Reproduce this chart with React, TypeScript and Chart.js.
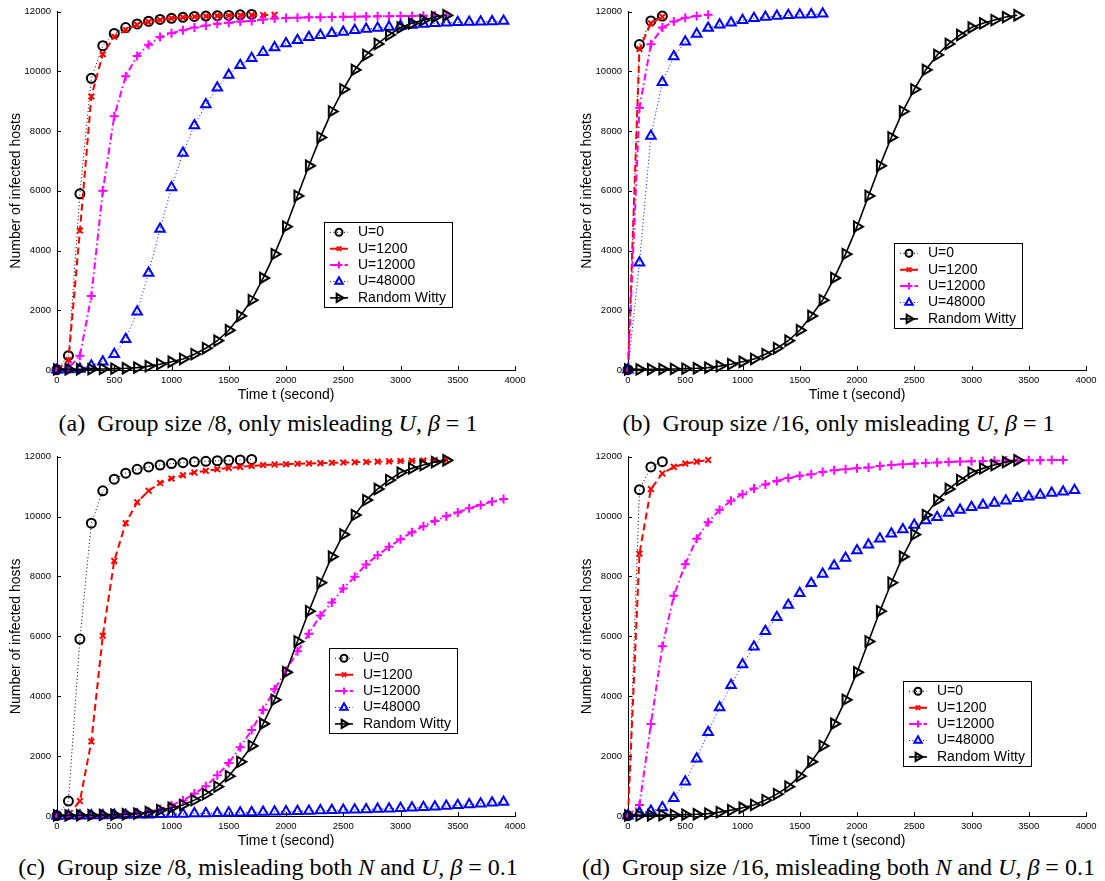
import React, { useEffect, useRef } from 'react';
import { Chart, registerables } from 'chart.js';

Chart.register(...registerables);

// ---------------- data ----------------
const T = [0, 100, 200, 300, 400, 500, 600, 700, 800, 900, 1000, 1100, 1200, 1300, 1400, 1500, 1600, 1700, 1800, 1900,
  2000, 2100, 2200, 2300, 2400, 2500, 2600, 2700, 2800, 2900, 3000, 3100, 3200, 3300, 3400, 3500, 3600, 3700, 3800, 3900];

const SERIES_NAMES = ['U=0', 'U=1200', 'U=12000', 'U=48000', 'Random Witty'];
const X_TICKS = [0, 500, 1000, 1500, 2000, 2500, 3000, 3500, 4000];
const Y_TICKS = [0, 2000, 4000, 6000, 8000, 10000, 12000];
const X_TITLE = 'Time t (second)';
const Y_TITLE = 'Number of infected hosts';

const WITTY = [20, 22, 26, 30, 36, 45, 58, 80, 130, 195, 275, 370, 530, 730, 980, 1330, 1810, 2340, 3080, 3880,
  4800, 5830, 6840, 7790, 8660, 9400, 10050, 10550, 10920, 11220, 11470, 11610, 11720, 11820, 11880];

// (a) group size /8, only misleading U, beta = 1
const A_U0 = [10, 480, 5900, 9770, 10860, 11270, 11470, 11590, 11680, 11740, 11780, 11810, 11840, 11855, 11865, 11875, 11895, 11910];
const A_U1200 = [10, 330, 4670, 9160, 10580, 11160, 11390, 11560, 11660, 11720, 11780, 11810, 11830, 11850, 11860, 11870, 11880, 11885, 11890, 11895];
const A_U12000 = [10, 60, 480, 2480, 6000, 8500, 9840, 10520, 10890, 11150, 11280, 11380, 11470, 11540, 11600, 11630, 11670, 11690, 11740, 11770,
  11790, 11800, 11810, 11815, 11820, 11830, 11835, 11840, 11845, 11850, 11855, 11860, 11865, 11870, 11875];
const A_U48000 = [10, 15, 35, 145, 280, 530, 1030, 1950, 3250, 4720, 6110, 7270, 8190, 8890, 9450, 9880, 10210, 10440, 10640, 10800,
  10935, 11045, 11145, 11210, 11280, 11320, 11380, 11420, 11455, 11490, 11520, 11555, 11590, 11610, 11630, 11645, 11655, 11665, 11675, 11685];

// (b) group size /16, only misleading U, beta = 1
const B_U0 = [10, 10900, 11690, 11855];
const B_U1200 = [10, 10750, 11610, 11830];
const B_U12000 = [10, 8780, 10910, 11470, 11670, 11800, 11860, 11900];
const B_U48000 = [10, 3590, 7840, 9640, 10500, 10990, 11250, 11450, 11560, 11630, 11710, 11780, 11820, 11860, 11880, 11900, 11910, 11930];

// (c) group size /8, misleading both N and U, beta = 0.1
const C_U0 = [10, 500, 5910, 9780, 10860, 11250, 11450, 11580, 11660, 11720, 11770, 11800, 11830, 11845, 11865, 11880, 11890, 11910];
const C_U1200 = [10, 30, 500, 2490, 6020, 8520, 9780, 10480, 10860, 11120, 11270, 11380, 11470, 11530, 11580, 11620, 11660, 11690, 11720, 11740,
  11750, 11765, 11775, 11785, 11795, 11805, 11815, 11825, 11835, 11845, 11855, 11865, 11875, 11885, 11890];
const C_U12000 = [10, 15, 20, 28, 38, 50, 70, 100, 140, 230, 360, 520, 750, 990, 1360, 1770, 2300, 2870, 3540, 4230,
  4850, 5500, 6090, 6700, 7130, 7600, 7990, 8400, 8710, 8990, 9240, 9480, 9680, 9850, 10010, 10140, 10280, 10390, 10500, 10590];
const C_U48000 = [0, 5, 10, 15, 20, 30, 35, 40, 45, 55, 65, 70, 80, 85, 95, 105, 110, 120, 130, 140,
  150, 160, 170, 180, 190, 200, 210, 220, 235, 245, 260, 275, 290, 310, 330, 355, 380, 410, 440, 470];

// (d) group size /16, misleading both N and U, beta = 0.1
const D_U0 = [10, 10900, 11660, 11835];
const D_U1200 = [10, 8760, 10920, 11440, 11660, 11770, 11835, 11890];
const D_U12000 = [10, 370, 3070, 5670, 7360, 8410, 9260, 9810, 10230, 10530, 10750, 10940, 11070, 11190, 11290, 11360, 11410, 11490, 11550, 11580,
  11615, 11640, 11690, 11720, 11745, 11770, 11790, 11810, 11825, 11840, 11850, 11860, 11865, 11870, 11875, 11880, 11885, 11888, 11890];
const D_U48000 = [10, 110, 170, 280, 590, 1140, 1910, 2800, 3620, 4370, 5060, 5650, 6170, 6640, 7050, 7440, 7770, 8080, 8360, 8620,
  8870, 9060, 9260, 9430, 9570, 9720, 9870, 9980, 10120, 10220, 10310, 10390, 10450, 10530, 10610, 10660, 10720, 10790, 10830, 10880];

// ---------------- styles / layout ----------------
type Sty = { color: string; width: number; dash: number[]; point: string; radius: number; pw: number; rot: number };
const STYLES: Sty[] = [
  { color: '#000000', width: 1, dash: [1, 2.5], point: 'circle', radius: 4.5, pw: 2, rot: 0 },
  { color: '#ff0000', width: 2, dash: [7, 4], point: 'crossRot', radius: 4, pw: 2, rot: 0 },
  { color: '#ff00ff', width: 2, dash: [7, 3, 1.5, 3], point: 'cross', radius: 4.5, pw: 2, rot: 0 },
  { color: '#0000ff', width: 1, dash: [1, 2.5], point: 'triangle', radius: 5.5, pw: 2, rot: 0 },
  { color: '#000000', width: 1.6, dash: [], point: 'triangle', radius: 6, pw: 2, rot: 90 },
];

const SANS = '"Liberation Sans", Arial, Helvetica, sans-serif';
const SERIF = '"Liberation Serif", "Times New Roman", serif';
const CANVAS_W = 534;

const PANELS = [
  { series: [A_U0, A_U1200, A_U12000, A_U48000, WITTY], left: 0, top: 0, h: 406, legend: { x: 266.7, y: 210 }, capCenter: 268, capTop: 411 },
  { series: [B_U0, B_U1200, B_U12000, B_U48000, WITTY], left: 571, top: 0, h: 406, legend: { x: 266.3, y: 231.7 }, capCenter: 838.5, capTop: 411 },
  { series: [C_U0, C_U1200, C_U12000, C_U48000, WITTY], left: 0, top: 445, h: 407, legend: { x: 272.3, y: 191 }, capCenter: 268, capTop: 855 },
  { series: [D_U0, D_U1200, D_U12000, D_U48000, WITTY], left: 571, top: 445, h: 407, legend: { x: 274.7, y: 224.3 }, capCenter: 838.5, capTop: 855 },
];

function drawMarker(ctx: CanvasRenderingContext2D, s: Sty, x: number, y: number, scale: number) {
  ctx.save();
  ctx.setLineDash([]);
  ctx.strokeStyle = s.color;
  ctx.lineWidth = s.pw;
  ctx.beginPath();
  const r = s.radius * scale;
  if (s.point === 'circle') {
    ctx.arc(x, y, r, 0, Math.PI * 2);
  } else if (s.point === 'cross') {
    ctx.moveTo(x, y - r); ctx.lineTo(x, y + r);
    ctx.moveTo(x - r, y); ctx.lineTo(x + r, y);
  } else if (s.point === 'crossRot') {
    const d = Math.cos(Math.PI / 4) * r;
    ctx.moveTo(x - d, y - d); ctx.lineTo(x + d, y + d);
    ctx.moveTo(x - d, y + d); ctx.lineTo(x + d, y - d);
  } else {
    let a = (s.rot * Math.PI) / 180;
    ctx.moveTo(x + Math.sin(a) * r, y - Math.cos(a) * r);
    a += (2 * Math.PI) / 3;
    ctx.lineTo(x + Math.sin(a) * r, y - Math.cos(a) * r);
    a += (2 * Math.PI) / 3;
    ctx.lineTo(x + Math.sin(a) * r, y - Math.cos(a) * r);
    ctx.closePath();
  }
  ctx.stroke();
  ctx.restore();
}

const inTicksPlugin = {
  id: 'inTicks',
  afterDatasetsDraw(chart: any) {
    const { ctx, chartArea, scales } = chart;
    ctx.save();
    ctx.strokeStyle = '#000';
    ctx.lineWidth = 1;
    ctx.setLineDash([]);
    ctx.beginPath();
    scales.x.ticks.forEach((t: any) => {
      const px = Math.round(scales.x.getPixelForValue(t.value)) + 0.5;
      ctx.moveTo(px, chartArea.bottom);
      ctx.lineTo(px, chartArea.bottom - 4);
    });
    scales.y.ticks.forEach((t: any) => {
      const py = Math.round(scales.y.getPixelForValue(t.value)) + 0.5;
      ctx.moveTo(chartArea.left, py);
      ctx.lineTo(chartArea.left + 4, py);
    });
    ctx.stroke();
    ctx.restore();
  },
};

const boxLegendPlugin = {
  id: 'boxLegend',
  afterDraw(chart: any, _args: any, opts: any) {
    const { ctx, chartArea } = chart;
    const x0 = Math.round(chartArea.left + opts.x);
    const y0 = Math.round(chartArea.top + opts.y);
    const w = 129, h = 86;
    ctx.save();
    ctx.fillStyle = '#ffffff';
    ctx.fillRect(x0, y0, w, h);
    ctx.strokeStyle = '#000';
    ctx.lineWidth = 1;
    ctx.setLineDash([]);
    ctx.strokeRect(x0 + 0.5, y0 + 0.5, w - 1, h - 1);
    SERIES_NAMES.forEach((name, i) => {
      const s = STYLES[i];
      const cy = y0 + 10.3 + i * 16.4;
      ctx.save();
      ctx.strokeStyle = s.color;
      ctx.lineWidth = s.width;
      ctx.setLineDash(s.dash);
      ctx.beginPath();
      ctx.moveTo(x0 + 6, cy);
      ctx.lineTo(x0 + 24, cy);
      ctx.stroke();
      ctx.restore();
      drawMarker(ctx, s, x0 + 15, cy, 0.78);
      ctx.fillStyle = '#000';
      ctx.font = `14px ${SANS}`;
      ctx.textBaseline = 'middle';
      ctx.textAlign = 'left';
      ctx.fillText(name, x0 + 34, cy);
    });
    ctx.restore();
  },
};

function Panel({ idx }: { idx: number }) {
  const ref = useRef<HTMLCanvasElement>(null);
  const P = PANELS[idx];
  useEffect(() => {
    const datasets = P.series.map((vals, i) => {
      const s = STYLES[i];
      return {
        label: SERIES_NAMES[i],
        data: vals.map((v, j) => ({ x: T[j], y: v })),
        borderColor: s.color,
        borderWidth: s.width,
        borderDash: s.dash,
        pointStyle: s.point,
        pointRadius: s.radius,
        pointHoverRadius: s.radius,
        pointBorderWidth: s.pw,
        pointRotation: s.rot,
        pointBorderColor: s.color,
        pointBackgroundColor: 'rgba(0,0,0,0)',
        tension: 0,
        fill: false,
        clip: false,
        order: 4 - i,
      };
    });
    const chart = new Chart(ref.current as HTMLCanvasElement, {
      type: 'line',
      data: { datasets } as any,
      plugins: [inTicksPlugin, boxLegendPlugin] as any,
      options: {
        responsive: false,
        animation: false,
        events: [],
        layout: { padding: { left: 0, top: 9, right: CANVAS_W - 515, bottom: 0 } },
        plugins: {
          legend: { display: false },
          tooltip: { enabled: false },
          boxLegend: P.legend,
        } as any,
        scales: {
          x: {
            type: 'linear',
            min: 0,
            max: 4000,
            afterBuildTicks: (s: any) => { s.ticks = X_TICKS.map((v) => ({ value: v })); },
            afterFit: (s: any) => { s.height = 36; },
            grid: { display: false, drawTicks: false },
            border: { display: true, color: '#000', width: 1 },
            ticks: { autoSkip: false, maxRotation: 0, padding: 5, color: '#000', font: { family: SANS, size: 9.5 }, callback: (v: any) => `${v}` },
            title: { display: true, text: X_TITLE, color: '#000', font: { family: SANS, size: 14 }, padding: { top: 0, bottom: 2 } },
          },
          y: {
            type: 'linear',
            min: 0,
            max: 12000,
            afterBuildTicks: (s: any) => { s.ticks = Y_TICKS.map((v) => ({ value: v })); },
            afterFit: (s: any) => { s.width = 57; },
            grid: { display: false, drawTicks: false },
            border: { display: true, color: '#000', width: 1 },
            ticks: { autoSkip: false, padding: 6, color: '#000', font: { family: SANS, size: 9.5 }, callback: (v: any) => `${v}` },
            title: { display: true, text: Y_TITLE, color: '#000', font: { family: SANS, size: 14 }, padding: { top: 8, bottom: 0 } },
          },
        },
      } as any,
    });
    return () => chart.destroy();
  }, []);
  return (
    <canvas
      ref={ref}
      width={CANVAS_W}
      height={P.h}
      style={{ position: 'absolute', left: P.left, top: P.top, width: CANVAS_W, height: P.h }}
    />
  );
}

const CAPTIONS = [
  <>(a)<span style={{ marginLeft: 12 }}>Group size /8, only misleading <i>U</i>, <i>β</i> = 1</span></>,
  <>(b)<span style={{ marginLeft: 12 }}>Group size /16, only misleading <i>U</i>, <i>β</i> = 1</span></>,
  <>(c)<span style={{ marginLeft: 12 }}>Group size /8, misleading both <i>N</i> and <i>U</i>, <i>β</i> = 0.1</span></>,
  <>(d)<span style={{ marginLeft: 12 }}>Group size /16, misleading both <i>N</i> and <i>U</i>, <i>β</i> = 0.1</span></>,
];

export default function App() {
  return (
    <div style={{ position: 'absolute', left: 0, top: 0, width: 1105, height: 881, background: '#fff', overflow: 'hidden' }}>
      {PANELS.map((_, i) => <Panel key={i} idx={i} />)}
      {PANELS.map((P, i) => (
        <div
          key={'c' + i}
          style={{
            position: 'absolute', left: P.capCenter - 300, top: P.capTop, width: 600, textAlign: 'center',
            fontFamily: SERIF, fontSize: 24, lineHeight: '24px', whiteSpace: 'nowrap', color: '#000',
          }}
        >
          {CAPTIONS[i]}
        </div>
      ))}
    </div>
  );
}
